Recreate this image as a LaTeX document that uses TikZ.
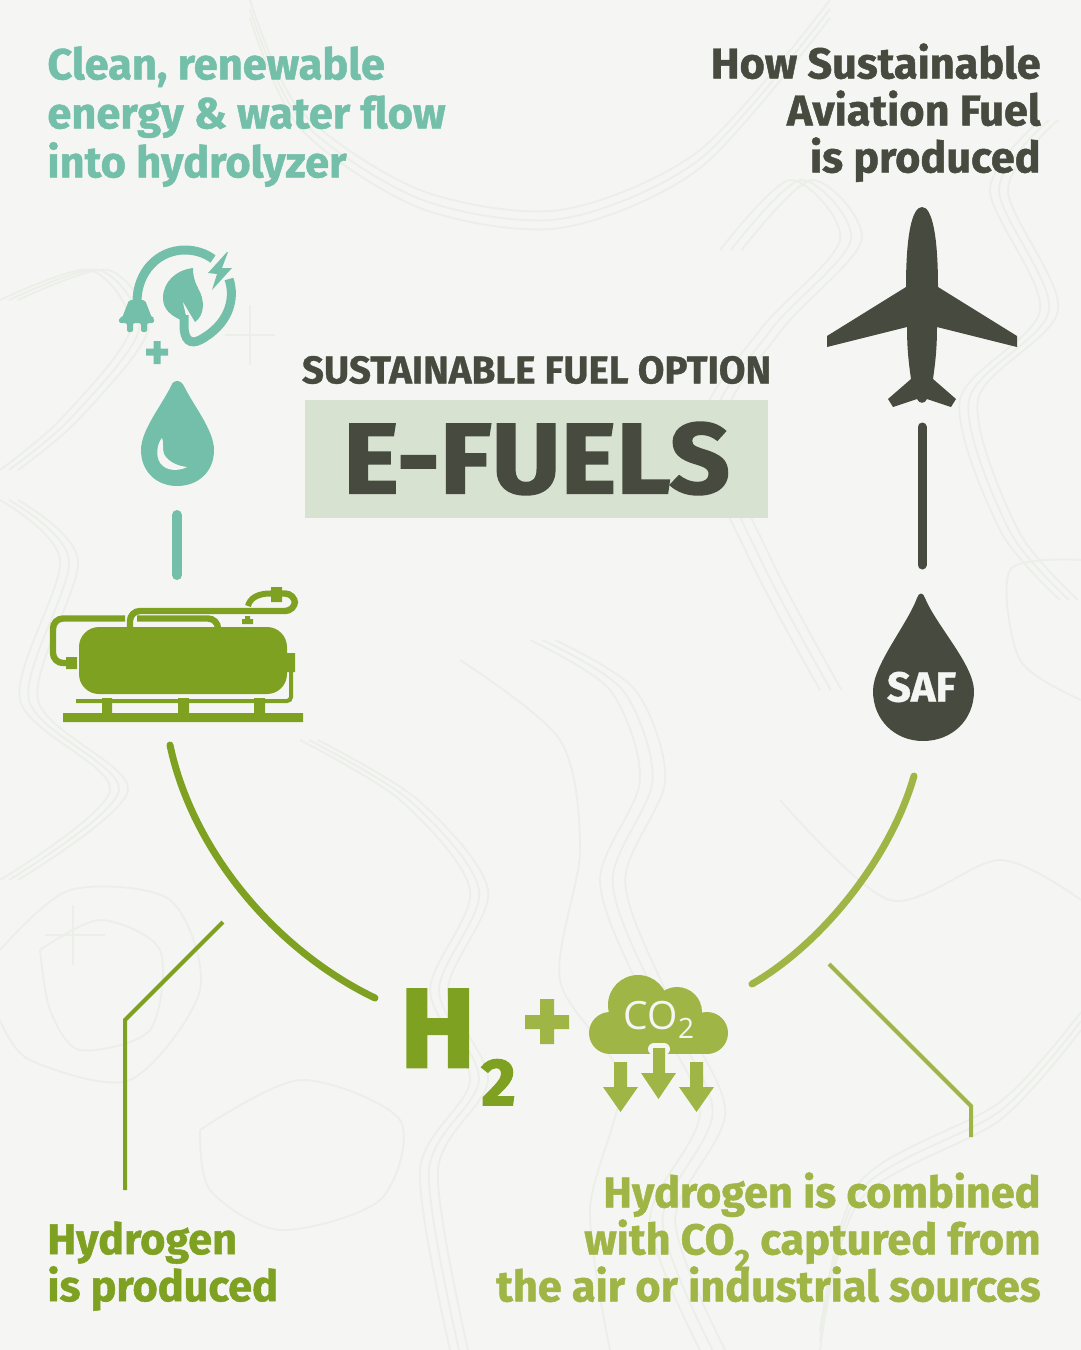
\documentclass[tikz,border=0pt]{standalone}
\usepackage{fontspec}
\setmainfont{Fira Sans}[BoldFeatures={FakeBold=1.1}]
\newfontfamily\widefont{Fira Sans}[BoldFeatures={FakeBold=0.8}]
\newfontfamily\titlefont{Fira Sans}[BoldFeatures={FakeBold=1.7,FakeStretch=1.06}]
\newfontfamily\heavyfont{Fira Sans}[BoldFeatures={FakeBold=2.4}]
\newfontfamily\lightfont{Open Sans}
\usetikzlibrary{calc}
\definecolor{paper}{HTML}{F5F6F4}
\definecolor{contour}{HTML}{ECEEE8}
\definecolor{tealflow}{HTML}{74BFA9}
\definecolor{darkfuel}{HTML}{474A3E}
\definecolor{greenhyd}{HTML}{7FA122}
\definecolor{greenco}{HTML}{9FB545}
\definecolor{titlebox}{HTML}{D8E2D0}
\newcommand{\lowtwo}{\smash{\raisebox{-0.7ex}{\fontsize{15}{15}\selectfont 2}}}
\tikzset{
	x=0.5pt, y=-0.5pt,
	headtext/.style={inner sep=0pt, font=\fontsize{21.7}{24.5}\selectfont\bfseries},
	headright/.style={headtext, font=\fontsize{21.6}{23.5}\selectfont\bfseries},
	linkline/.style={line width=5pt, line cap=round},
	arcline/.style={line width=3.5pt, line cap=round},
	leader/.style={line width=2pt},
	pipe/.style={draw=greenhyd, line width=3.2pt, rounded corners=5pt},
	topo/.style={draw=contour, line width=0.9pt, smooth},
}
\begin{document}
\begin{tikzpicture}
	\useasboundingbox (0,0) rectangle (1081,1350);
	\fill[paper] (0,0) rectangle (1081,1350);

	\foreach \d in {0,9,18} {
		\draw[topo, xshift=\d*0.5pt] plot coordinates {(0,300) (90,270) (130,330) (60,420) (0,470)};
		\draw[topo, yshift=-\d*0.5pt] plot coordinates {(250,0) (300,110) (420,190) (560,210) (700,150) (830,0)};
		\draw[topo, xshift=\d*0.5pt] plot coordinates {(0,500) (60,560) (20,700) (110,790) (0,880)};
		\draw[topo, xshift=\d*0.7pt] plot coordinates {(530,640) (610,690) (640,780) (600,880) (640,990) (700,1110) (650,1220) (700,1350)};
		\draw[topo, xshift=\d*0.5pt] plot coordinates {(300,740) (400,800) (470,890) (430,990) (470,1080) (420,1170) (450,1350)};
		\draw[topo, xshift=\d*0.6pt] plot coordinates {(720,250) (790,180) (840,240) (760,330) (700,430) (750,560) (820,690)};
		\draw[topo, xshift=\d*0.5pt] plot coordinates {(1040,120) (990,190) (1040,310) (960,400) (1000,530) (1060,600)};
		\draw[topo, yshift=\d*0.5pt] plot coordinates {(820,1350) (860,1200) (1000,1120) (1081,1030)};
	}
	\draw[topo] plot coordinates {(0,950) (70,890) (170,900) (200,990) (130,1080) (30,1060) (0,1020)};
	\draw[topo] plot coordinates {(40,950) (100,920) (160,950) (150,1030) (80,1050) (50,1010) (40,950)};
	\draw[topo] plot coordinates {(460,660) (560,740) (580,850) (560,980) (620,1080) (590,1210) (610,1350)};
	\draw[topo] plot coordinates {(200,1130) (300,1080) (400,1120) (380,1200) (280,1230) (210,1190) (200,1130)};
	\draw[topo] plot coordinates {(1081,560) (1010,570) (1020,660) (1081,700)};
	\draw[topo] plot coordinates {(780,800) (890,900) (1000,860) (1081,900)};
	\draw[topo] plot coordinates {(250,305) (250,365)};
	\draw[topo] plot coordinates {(225,335) (275,335)};
	\draw[topo] plot coordinates {(45,935) (105,935)};
	\draw[topo] plot coordinates {(73,905) (73,965)};

	\node[headtext, anchor=north west, align=left, text=tealflow] (cleantext) at (47,46) {Clean, renewable\\energy \& water flow\\into hydrolyzer};
	\node[headright, anchor=north east, align=right, text=darkfuel] (howtext) at (1041,43) {How Sustainable\\Aviation Fuel\\is produced};
	\node[headright, anchor=north west, align=left, text=greenhyd] (hydrotext) at (47,1221) {Hydrogen\\is produced};
	\node[headright, anchor=north east, align=right, text=greenco] (combinedtext) at (1041,1172) {Hydrogen is combined\\with CO\lowtwo{} captured from\\the air or industrial sources};

	\node[inner sep=0pt, text=darkfuel, font=\widefont\fontsize{19.3}{19.3}\selectfont\bfseries] (optiontext) at (536.5,370) {SUSTAINABLE FUEL OPTION};
	\node[fill=titlebox, minimum width=231.5pt, minimum height=59pt, inner sep=0pt, text=darkfuel, font=\titlefont\fontsize{50}{50}\selectfont\bfseries] (titletext) at (536.5,458.5) {E-FUELS};

	\draw[tealflow, line width=4.5pt] (137,302) .. controls (137,272) and (158,250) .. (185,250) .. controls (195,250) and (205,253) .. (213,259);
	\draw[tealflow, line width=4.5pt] (229,279) .. controls (236,300) and (228,325) .. (200,340) .. controls (190,345) and (184,340) .. (184,325) -- (184,315);
	\fill[tealflow] (193,268) .. controls (176,270) and (163,282) .. (163,298) .. controls (163,310) and (172,316) .. (181,320) -- (187,320) -- (182.5,301) -- (195,322) .. controls (205,315) and (205,300) .. (198,288) .. controls (194,280) and (193,275) .. (193,268) -- cycle;
	\fill[tealflow] (227,252) -- (208,273) -- (217,274) -- (212,290) -- (232,268) -- (222,268) -- (228,252) -- cycle;
	\fill[tealflow, rounded corners=1pt] (129,300) -- (145,300) -- (152,318) -- (154,318) -- (154,323) -- (147,323) -- (147,332) -- (141,332) -- (141,323) -- (133,323) -- (133,332) -- (127,332) -- (127,323) -- (119,323) -- (119,318) -- (122,318) -- cycle;
	\fill[tealflow] (146,348.5) rectangle (168,355.5) (153.5,341) rectangle (160.5,364);
	\fill[tealflow] (171,386) .. controls (162,405) and (141,430) .. (141,450) .. controls (141,472) and (157,486) .. (177,486) .. controls (198,486) and (214,472) .. (214,450) .. controls (214,430) and (193,405) .. (184,386) .. controls (180,379) and (174,379) .. (171,386) -- cycle;
	\fill[paper] (162,438) .. controls (156,445) and (155,460) .. (163,466) .. controls (170,472) and (182,470) .. (187,467) .. controls (178,466) and (168,462) .. (164,454) .. controls (162,449) and (164,442) .. (162,438) -- cycle;

	\coordinate (flowtop) at (177,515);
	\coordinate (flowend) at (177,575);
	\draw[linkline, tealflow] (flowtop) -- (flowend);

	\fill[greenhyd, rounded corners=10pt] (79,627) rectangle (287,694);
	\draw[pipe] (125,618.5) -- (53,618.5) -- (53,663) -- (68,663);
	\draw[pipe] (130,627) -- (130,611) -- (295,611) -- (295,593.5) -- (270,593.5);
	\draw[greenhyd, line width=3pt] (270,593.5) .. controls (258,593.5) and (250,598) .. (248,606);
	\draw[pipe] (137,618.5) -- (218,618.5) -- (218,628);
	\fill[greenhyd] (66,657) rectangle (77,669) (287,653) rectangle (295,672) (271,587) rectangle (282,602) (242,619) rectangle (253,624) (245,616) rectangle (250,619);
	\draw[greenhyd, line width=2pt, rounded corners=2pt] (291,672) -- (291,701) -- (76,701);
	\fill[greenhyd] (102,698) rectangle (112,714) (178,698) rectangle (189,714) (254,698) rectangle (265,714) (63,713) rectangle (303,722);

	\coordinate (tankarc) at (170,745);
	\coordinate (htwoarc) at (375,998);
	\draw[arcline, greenhyd] (tankarc) .. controls (192,850) and (275,950) .. (htwoarc);
	\coordinate (leftlead) at (223,922);
	\coordinate (leftbend) at (125,1020);
	\coordinate (leftend) at (125,1190);
	\draw[leader, greenhyd] (leftlead) -- (leftbend) -- (leftend);

	\node[inner sep=0pt, anchor=base west, text=greenhyd, font=\heavyfont\fontsize{56}{56}\selectfont\bfseries] (hletter) at (400,1067) {H};
	\node[inner sep=0pt, anchor=base west, text=greenhyd, font=\heavyfont\fontsize{33}{33}\selectfont\bfseries] (htwo) at (481,1105) {2};
	\fill[greenco] (525,1015) rectangle (569,1029) (540,999) rectangle (554,1044);

	\fill[greenco] (638,1005) circle[radius=30];
	\fill[greenco] (677,1012) circle[radius=25];
	\fill[greenco] (707,1033) circle[radius=21];
	\fill[greenco] (610,1033) circle[radius=21];
	\fill[greenco] (610,1025) rectangle (707,1054);
	\fill[paper, rounded corners=3pt] (648,1055) -- (648,1043) -- (670,1043) -- (670,1055) -- cycle;
	\node[inner sep=0pt, text=paper, font=\lightfont\fontsize{19.5}{19.5}\selectfont] (cotext) at (659,1020) {CO\raisebox{-0.4ex}{\fontsize{14}{14}\selectfont 2}};
	\fill[greenco] (614,1062) -- (627,1062) -- (627,1087) -- (638,1087) -- (620.5,1112) -- (603,1087) -- (614,1087) -- cycle;
	\fill[greenco] (653,1048) -- (665,1048) -- (665,1073) -- (676,1073) -- (658.5,1099) -- (641,1073) -- (653,1073) -- cycle;
	\fill[greenco] (690,1062) -- (703,1062) -- (703,1087) -- (714,1087) -- (696.5,1112) -- (679,1087) -- (690,1087) -- cycle;

	\coordinate (coarc) at (752,984);
	\coordinate (safarc) at (914,776);
	\draw[arcline, greenco] (coarc) .. controls (820,945) and (890,860) .. (safarc);
	\coordinate (rightlead) at (829,964);
	\coordinate (rightbend) at (971,1106);
	\coordinate (rightend) at (971,1137);
	\draw[leader, greenco] (rightlead) -- (rightbend) -- (rightend);

	\fill[darkfuel] (917,598) .. controls (907,625) and (873,665) .. (873,691) .. controls (873,720) and (895,741) .. (923,741) .. controls (952,741) and (974,720) .. (974,691) .. controls (974,665) and (936,625) .. (925,598) .. controls (923,592) and (919,592) .. (917,598) -- cycle;
	\node[inner sep=0pt, text=paper, font=\widefont\fontsize{21}{21}\selectfont\bfseries] (saftext) at (921.5,687) {SAF};

	\coordinate (planetail) at (922,427);
	\coordinate (safdrop) at (922,565);
	\draw[linkline, line width=4.5pt, darkfuel] (planetail) -- (safdrop);

	\fill[darkfuel] (922,207) .. controls (912,207) and (906,235) .. (906,287) -- (827,336) -- (827,347) -- (907,327) .. controls (907,350) and (909,365) .. (911,379) -- (888,399) -- (893,407) -- (917,399) .. controls (919,404) and (925,404) .. (927,399) -- (951,407) -- (956,399) -- (933,379) .. controls (935,365) and (937,350) .. (937,327) -- (1017,347) -- (1017,336) -- (938,287) .. controls (938,235) and (932,207) .. (922,207) -- cycle;
\end{tikzpicture}
\end{document}
